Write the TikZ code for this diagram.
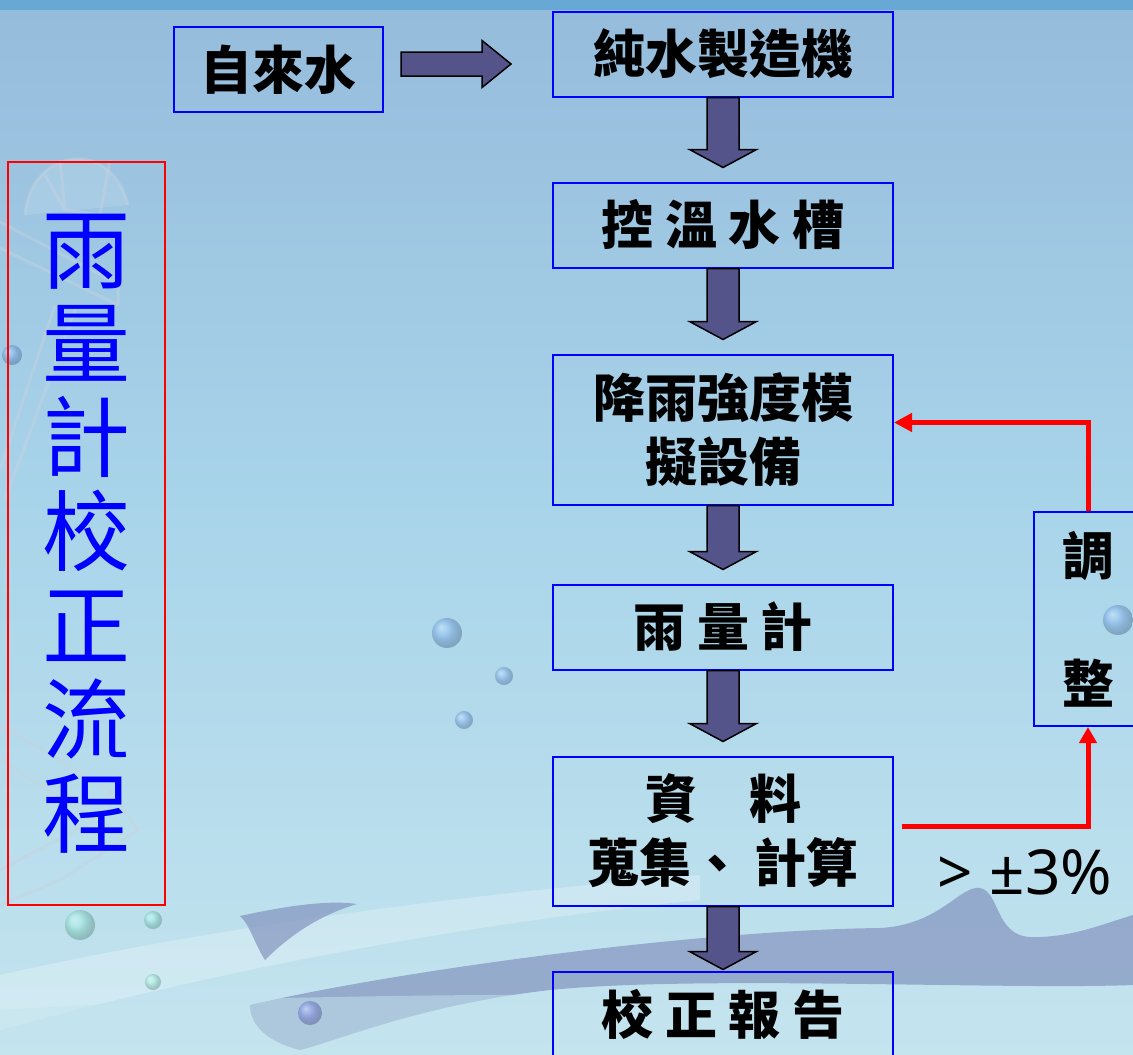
\documentclass[tikz,border=0pt]{standalone}
\usepackage{fontspec}
\newfontfamily\cjk{Noto Sans CJK TC}
\newfontfamily\latin{Noto Sans}
\usepackage{xcolor}
\definecolor{franja}{RGB}{104,168,212}
\definecolor{cielo}{RGB}{150,188,220}
\definecolor{medio}{RGB}{168,212,234}
\definecolor{claro}{RGB}{196,228,238}
\definecolor{ola}{RGB}{132,148,190}
\definecolor{trazo}{RGB}{200,210,222}
\definecolor{pizarra}{RGB}{84,84,138}
\usepackage{tikz}
\usetikzlibrary{calc, positioning, arrows.meta}

% thick block arrow from the bottom of #2 down towards the top of #3
\newcommand{\blockdown}[3][14pt]{%
  \draw[blockarrow] let \p1=(#2.south), \p2=(#3.north) in
    (\x1-16pt,\y1) -- (\x1-16pt,\y2+#1+18pt) -- (\x1-33.5pt,\y2+#1+18pt)
    -- (\x1,\y2+#1) -- (\x1+33.5pt,\y2+#1+18pt) -- (\x1+16pt,\y2+#1+18pt)
    -- (\x1+16pt,\y1) -- cycle;}

\begin{document}
\begin{tikzpicture}[x=1pt, y=-1pt,
  box/.style={rectangle, draw=blue, line width=2pt, minimum width=340pt, minimum height=85pt,
    align=center, inner sep=0pt, font={\cjk\bfseries\fontsize{52}{64}\selectfont}},
  blockarrow/.style={fill=pizarra, draw=black, line width=1.5pt, line join=miter},
  feedback/.style={red, line width=5pt, -{Triangle[length=18pt,width=18pt]}},
  bubble/.style={ball color=#1, opacity=0.35},
  sketch/.style={draw=trazo, line width=3pt, opacity=0.45, line join=round}
]
  \useasboundingbox (0,0) rectangle (1133,1055);
  \clip (0,0) rectangle (1133,1055);

  % background
  \shade[top color=cielo, bottom color=medio] (0,10) rectangle (1133,500);
  \shade[top color=medio, bottom color=claro] (0,499) rectangle (1133,1055);
  \fill[franja] (0,0) rectangle (1133,10);

  % faint buoy drawing on the left
  \fill[white, opacity=0.12] (25,215) .. controls (30,150) and (110,135) .. (128,205) -- cycle;
  \draw[sketch] (25,215) .. controls (30,150) and (110,135) .. (128,205);
  \draw[sketch] (45,175) -- (65,210) -- (60,160) (65,210) -- (100,215) -- (110,160);
  \draw[sketch] (0,222) -- (120,285) (0,248) -- (118,305) (118,285) -- (118,305);
  \draw[sketch] (55,305) -- (0,470) (75,310) -- (5,500);
  \draw[sketch] (0,725) -- (110,790) -- (138,830) -- (60,880) -- (0,905);
  \draw[sketch] (0,760) -- (95,820) -- (0,870) (110,790) -- (110,810);

  % waves and bubbles
  \fill[white, opacity=0.25] (0,975) .. controls (200,930) and (450,895) .. (700,875)
    -- (700,900) .. controls (450,925) and (200,975) .. (0,1030) -- cycle;
  \fill[ola, opacity=0.7] (240,916) .. controls (290,905) and (330,900) .. (357,904)
    .. controls (320,915) and (290,935) .. (265,960) .. controls (255,945) and (250,925) .. (240,916) -- cycle;
  \fill[ola, opacity=0.7] (250,1005) .. controls (400,970) and (700,930) .. (880,928)
    .. controls (940,925) and (960,885) .. (980,888) .. controls (1000,892) and (995,935) .. (1030,937)
    .. controls (1070,938) and (1100,925) .. (1133,915) -- (1133,985)
    .. controls (1000,990) and (700,975) .. (550,990) .. controls (420,1005) and (340,1040) .. (300,1050)
    .. controls (260,1040) and (250,1020) .. (250,1005) -- cycle;
  \fill[claro, opacity=0.5] (0,1055) -- (0,1010) .. controls (400,985) and (800,1000) .. (1133,990) -- (1133,1055) -- cycle;
  \shade[bubble=cyan!40!blue!60] (447,633) circle (15);
  \shade[bubble=cyan!40!blue!60] (504,676) circle (9);
  \shade[bubble=cyan!40!blue!60] (464,720) circle (9);
  \shade[bubble=cyan!40!blue!60] (1118,620) circle (15);
  \shade[bubble=cyan!40!blue!60] (12,355) circle (10);
  \shade[bubble=green!30!cyan!50] (80,925) circle (15);
  \shade[bubble=green!30!cyan!50] (153,920) circle (9);
  \shade[bubble=green!30!cyan!50] (153,982) circle (8);
  \shade[bubble=blue!60] (310,1013) circle (12);

  % title
  \node[rectangle, draw=red, line width=2pt, minimum width=157pt, minimum height=743pt,
    text=blue, align=center, inner sep=0pt, font={\cjk\fontsize{88}{94}\selectfont}]
    (title) at (86.5,533.5) {雨\\量\\計\\校\\正\\流\\程};

  % process chain
  \node[box] (maker) at (723,54) {純水製造機};
  \node[box, minimum width=209pt] (water) at (278.5,69.5) {自來水};
  \node[box, below=84pt of maker] (tank) {控 溫 水 槽};
  \node[box, below=85pt of tank, minimum height=150pt] (rainsim) {降雨強度模\\擬設備};
  \node[box, below=78pt of rainsim] (gauge) {雨 量 計};
  \node[box, below=85pt of gauge, minimum height=149pt] (data) {資　料\\蒐集、 計算};
  \node[box, below=64pt of data] (report) {校 正 報 告};
  \node[box, minimum width=108pt, minimum height=214pt] (adjust) at (1088,619) {調\\[64pt]整};
  \node[font={\latin\fontsize{62}{62}\selectfont}] (limit) at (1025,872) {> ±3\%};

  % arrows
  \draw[blockarrow] let \p1=(water.east), \p2=(maker.west) in
    (\x1+17pt,\y2-22pt) -- (\x2-70pt,\y2-22pt) -- (\x2-70pt,\y2-33.5pt) -- (\x2-41pt,\y2-10pt)
    -- (\x2-70pt,\y2+13.5pt) -- (\x2-70pt,\y2+2pt) -- (\x1+17pt,\y2+2pt) -- cycle;
  \foreach \a/\b in {maker/tank, tank/rainsim, rainsim/gauge, gauge/data}
    \blockdown{\a}{\b};
  \blockdown[1pt]{data}{report};

  \draw[feedback, -{Triangle[length=16pt,width=17pt]}] ([xshift=8pt,yshift=5pt]data.east) -| (adjust.south);
  \draw[feedback] (adjust.north) |- ([yshift=7pt]rainsim.east);
\end{tikzpicture}
\end{document}
